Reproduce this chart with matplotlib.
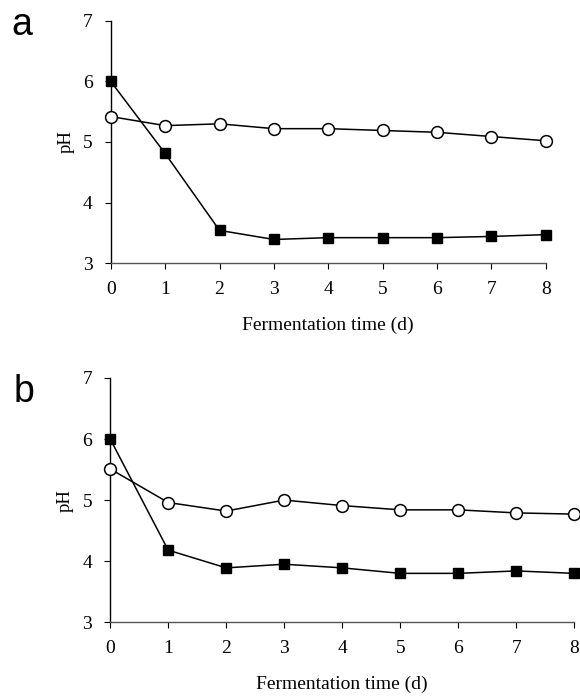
import matplotlib
matplotlib.use("Agg")
import matplotlib.pyplot as plt

# fermentation days
days = [0, 1, 2, 3, 4, 5, 6, 7, 8]

# panel a
a_squares = [6.00, 4.81, 3.54, 3.39, 3.42, 3.42, 3.42, 3.44, 3.47]
a_circles = [5.42, 5.27, 5.30, 5.22, 5.22, 5.19, 5.16, 5.09, 5.02]

# panel b
b_squares = [6.00, 4.18, 3.89, 3.95, 3.89, 3.80, 3.80, 3.84, 3.80]
b_circles = [5.51, 4.96, 4.82, 5.00, 4.91, 4.84, 4.84, 4.79, 4.77]

y_ticks = [3, 4, 5, 6, 7]
x_label = "Fermentation time (d)"
y_label = "pH"

serif = "Liberation Serif"
sans = "Liberation Sans"


def draw_panel(axis, squares, circles):
    # open circles first so squares sit on top
    axis.plot(days, circles, color="black", linewidth=1.1, marker="o",
              markersize=8.5, markerfacecolor="white", markeredgecolor="black",
              markeredgewidth=1.1, clip_on=False, zorder=3)
    axis.plot(days, squares, color="black", linewidth=1.1, marker="s",
              markersize=6.8, markerfacecolor="black", markeredgecolor="black",
              clip_on=False, zorder=4)
    axis.set_xlim(0, 8)
    axis.set_ylim(3, 7)
    axis.set_yticks(y_ticks)
    axis.set_xticks(days)
    axis.spines["top"].set_visible(False)
    axis.spines["right"].set_visible(False)
    axis.spines["left"].set_linewidth(1.0)
    axis.spines["bottom"].set_linewidth(1.0)
    axis.spines["bottom"].set_color("#555555")
    axis.tick_params(direction="out", length=4, width=0.8, pad=9)
    for lab in axis.get_xticklabels() + axis.get_yticklabels():
        lab.set_fontfamily(serif)
        lab.set_fontsize(14)
    axis.set_xlabel(x_label, fontfamily=serif, fontsize=14, labelpad=13)
    axis.set_ylabel(y_label, fontfamily=serif, fontsize=13.5, labelpad=6)


fig = plt.figure(figsize=(5.8, 6.96), dpi=100)
ax_a = fig.add_axes([0.191, 0.622, 0.750, 0.348])
ax_b = fig.add_axes([0.190, 0.106, 0.800, 0.351])
draw_panel(ax_a, a_squares, a_circles)
draw_panel(ax_b, b_squares, b_circles)

# panel letters
fig.text(0.020, 0.950, "a", fontfamily=sans, fontsize=27, ha="left", va="baseline")
fig.text(0.024, 0.422, "b", fontfamily=sans, fontsize=27, ha="left", va="baseline")

fig.savefig("out.png", dpi=100)
